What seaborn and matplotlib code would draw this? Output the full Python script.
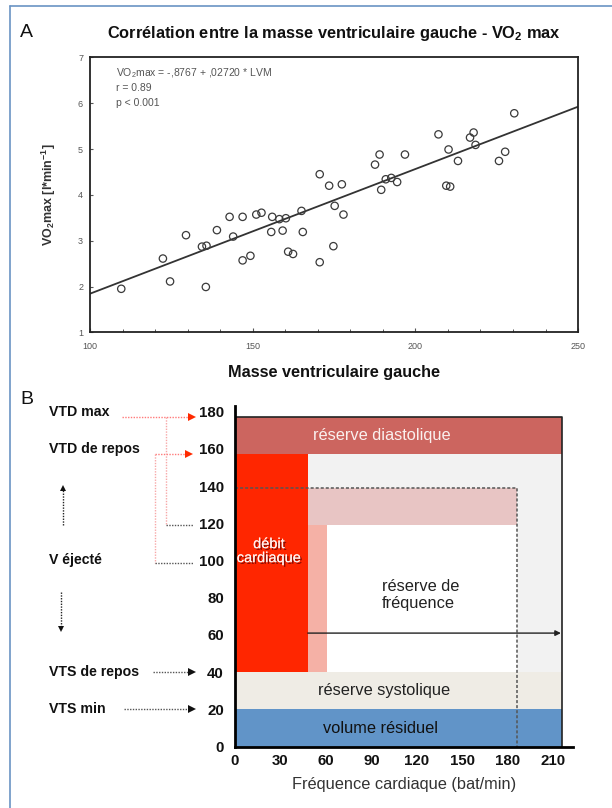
import matplotlib
matplotlib.use('Agg')

import matplotlib.pyplot as plt
import matplotlib.patheffects as pe
from matplotlib.lines import Line2D
from matplotlib.ticker import MultipleLocator
from matplotlib.transforms import blended_transform_factory
import seaborn as sns

sns.set_theme(style="white")
plt.rcParams['font.family'] = ['Liberation Sans', 'DejaVu Sans']
plt.rcParams['mathtext.default'] = 'regular'

# --- panel A : masse ventriculaire gauche vs VO2 max ---
lvm = [109.6, 122.4, 124.6, 129.5, 134.4, 135.8, 135.6, 139.0, 142.9, 144.0,
       146.9, 146.9, 149.3, 151.1, 152.7, 156.0, 155.7, 158.2, 159.2, 160.2,
       160.9, 162.4, 165.0, 165.4, 170.6, 170.6, 173.5, 174.8, 175.2, 177.4,
       177.9, 187.6, 189.0, 189.5, 190.9, 192.6, 194.4, 196.8, 207.1, 210.2,
       209.5, 210.7, 213.1, 216.8, 217.9, 218.5, 225.7, 227.6, 230.4]
vo2 = [1.95, 2.61, 2.11, 3.12, 2.87, 2.89, 1.99, 3.23, 3.52, 3.09,
       3.52, 2.57, 2.67, 3.57, 3.61, 3.52, 3.19, 3.47, 3.22, 3.49,
       2.76, 2.71, 3.65, 3.19, 4.45, 2.53, 4.20, 2.88, 3.76, 4.23,
       3.57, 4.66, 4.88, 4.11, 4.34, 4.37, 4.28, 4.88, 5.32, 4.99,
       4.20, 4.18, 4.74, 5.25, 5.36, 5.09, 4.74, 4.94, 5.78]
intercept, slope = -0.8767, 0.02720
line_lvm = [100, 250]
stats_lines = ["VO$_2$max = -,8767 + ,02720 * LVM", "r = 0.89", "p < 0.001"]

# --- panel B : volumes (ml) et frequence cardiaque (bat/min) ---
band_names = ['volume résiduel', 'réserve systolique', 'réserve diastolique']
band_low = [0, 20, 157]
band_high = [20, 40, 177]
fc_repos = 48        # fin de la colonne debit cardiaque
fc_step = 61
fc_max = 186
fc_limit = 216
vts_repos = 40
v_pink = [119, 139]
vtd_repos = 157
vtd_max = 177
arrow_v = 61
x_ticks = [0, 30, 60, 90, 120, 150, 180, 210]
y_ticks = [0, 20, 40, 60, 80, 100, 120, 140, 160, 180]

fig = plt.figure(figsize=(6.12, 8.08), dpi=100)
fig.patch.set_facecolor('white')

# frame lines (top and left)
border = '#6A93C4'
fig.add_artist(Line2D([10 / 612, 10 / 612], [0, 1 - 6 / 808], color=border, lw=1.2))
fig.add_artist(Line2D([10 / 612, 1], [1 - 6 / 808, 1 - 6 / 808], color=border, lw=1.2))

fig.text(0.044, 0.960, 'A', fontsize=14, ha='center', va='center', color='#111')
fig.text(0.044, 0.505, 'B', fontsize=14, ha='center', va='center', color='#111')

# ---------------- A ----------------
ax1 = fig.add_axes([0.1471, 0.5887, 0.7974, 0.3403])
sns.lineplot(x=line_lvm, y=[intercept + slope * v for v in line_lvm], ax=ax1,
             color='#333333', lw=1.3)
sns.scatterplot(x=lvm, y=vo2, ax=ax1, s=28, facecolor='none',
                edgecolor='#3a3a3a', linewidth=0.9, zorder=3)
ax1.set_xlim(100, 250)
ax1.set_ylim(1, 7)
ax1.set_xticks([100, 150, 200, 250])
ax1.set_yticks(range(1, 8))
ax1.xaxis.set_minor_locator(MultipleLocator(10))
ax1.tick_params(axis='x', which='major', direction='in', length=3, width=0.8,
                colors='#555', labelsize=6.5, pad=7, bottom=True)
ax1.tick_params(axis='x', which='minor', direction='in', length=2, width=0.7,
                color='#555', bottom=True)
ax1.tick_params(axis='y', direction='in', length=2.5, width=0.8,
                colors='#555', labelsize=6.5, pad=5, left=True)
for s in ax1.spines.values():
    s.set_color('#222')
    s.set_linewidth(1.3)
ax1.set_xlabel('Masse ventriculaire gauche', fontsize=11.7, fontweight='bold',
               color='#111', labelpad=10)
ax1.set_ylabel('VO$_2$max [l*min$^{-1}$]', fontsize=9, fontweight='bold',
               color='#333')
ax1.yaxis.set_label_coords(-0.066, 0.5)
ax1.set_title('Corrélation entre la masse ventriculaire gauche - VO$_2$ max',
              fontsize=11.8, fontweight='bold', color='#111', pad=14)
for i, t in enumerate(stats_lines):
    ax1.text(0.053, 0.943 - i * 0.055, t, transform=ax1.transAxes,
             fontsize=7.5, color='#555', ha='left', va='center')

# ---------------- B ----------------
ax2 = fig.add_axes([0.384, 0.0759, 0.5523, 0.4217])
ax2.set_xlim(0, 223)
ax2.set_ylim(0, 183)

band_colors = ['#6194C8', '#EFECE5', '#CC655F']
for lo, hi, c in zip(band_low, band_high, band_colors):
    ax2.bar(0, hi - lo, width=fc_limit, bottom=lo, align='edge', color=c,
            linewidth=0, zorder=1)
# zone grise (reserve de frequence)
ax2.bar(fc_repos, vtd_repos - vts_repos, width=fc_limit - fc_repos,
        bottom=vts_repos, align='edge', color='#F2F2F2', linewidth=0, zorder=1)
# zone blanche
ax2.bar(fc_step, v_pink[0] - vts_repos, width=fc_max - fc_step,
        bottom=vts_repos, align='edge', color='white', linewidth=0, zorder=1)
# bande rose
ax2.bar(fc_repos, v_pink[1] - v_pink[0], width=fc_max - fc_repos,
        bottom=v_pink[0], align='edge', color='#E8C5C4', linewidth=0, zorder=1)
# bande saumon
ax2.bar(fc_repos, v_pink[0] - vts_repos, width=fc_step - fc_repos,
        bottom=vts_repos, align='edge', color='#F5B1A6', linewidth=0, zorder=1)
# debit cardiaque
ax2.bar(0, vtd_repos - vts_repos, width=fc_repos, bottom=vts_repos,
        align='edge', color='#FF2600', linewidth=0, zorder=2)

# contour haut / droite
ax2.plot([0, fc_limit, fc_limit], [vtd_max, vtd_max, 0], color='#222',
         lw=1.2, zorder=3)
# pointilles
ax2.plot([0, fc_max, fc_max], [v_pink[1], v_pink[1], 0], color='#555',
         lw=1.1, ls=(0, (2, 1.3)), zorder=4)
# fleche reserve de frequence
ax2.annotate('', xy=(fc_limit - 1, arrow_v), xytext=(fc_repos, arrow_v),
             arrowprops=dict(arrowstyle='-|>', color='#222', lw=1,
                             mutation_scale=8, shrinkA=0, shrinkB=0), zorder=5)

ax2.text(97, 167, band_names[2], color='#FAF0EE', fontsize=11.8,
         ha='center', va='center', zorder=5)
ax2.text(98.5, 30, band_names[1], color='#222', fontsize=11.8,
         ha='center', va='center', zorder=5)
ax2.text(96, 10, band_names[0], color='#111', fontsize=11.8,
         ha='center', va='center', zorder=5)
ax2.text(97, 81.5, 'réserve de\nfréquence', color='#222', fontsize=11.8,
         ha='left', va='center', linespacing=1.1, zorder=5)
ax2.text(22.5, 105, 'débit\ncardiaque', color='#FFF2F0', fontsize=10.5,
         ha='center', va='center', linespacing=1.0, zorder=5,
         path_effects=[pe.withSimplePatchShadow(offset=(1.2, -1.2),
                                                shadow_rgbFace='#5a0000',
                                                alpha=0.7),
                       pe.Normal()])

sns.despine(ax=ax2)
ax2.spines['left'].set_color('black')
ax2.spines['bottom'].set_color('black')
ax2.spines['left'].set_linewidth(2)
ax2.spines['bottom'].set_linewidth(2)
ax2.spines['left'].set_zorder(6)
ax2.spines['bottom'].set_zorder(6)
ax2.set_xticks(x_ticks)
ax2.set_yticks(y_ticks)
ax2.tick_params(axis='both', length=0, labelsize=10.8)
ax2.tick_params(axis='y', pad=8)
ax2.tick_params(axis='x', pad=5)
for lab in ax2.get_xticklabels() + ax2.get_yticklabels():
    lab.set_fontweight('bold')
    lab.set_color('#111')
ax2.set_xlabel('Fréquence cardiaque (bat/min)', fontsize=11.8, color='#333',
               labelpad=7)

# annotations a gauche
tr = blended_transform_factory(ax2.transAxes, ax2.transData)
left_labels = ['VTD max', 'VTD de repos', 'V éjecté', 'VTS de repos', 'VTS min']
left_levels = [180, 160, 100, 40, 20]
for t, v in zip(left_labels, left_levels):
    ax2.text(-0.549, v, t, transform=tr, fontsize=10.2, fontweight='bold',
             color='#111', ha='left', va='center', clip_on=False)

dot = (0, (1, 1))
red_line = '#FF7A7A'
red_pale = '#F7A8A8'
red_head = '#FF2A00'

def hline(x0, x1, y, color, head=None):
    ax2.plot([x0, x1], [y, y], transform=tr, color=color, lw=1, ls=dot,
             clip_on=False, zorder=5)
    if head:
        ax2.plot([x1], [y], transform=tr, marker='>', ms=6, color=head,
                 clip_on=False, zorder=5, mew=0)

def vline(x, y0, y1, color, head=None):
    ax2.plot([x, x], [y0, y1], transform=tr, color=color, lw=1, ls=dot,
             clip_on=False, zorder=5)
    if head:
        ax2.plot([x], [y1], transform=tr, marker=head, ms=5, color='#111',
                 clip_on=False, zorder=5, mew=0)

hline(-0.334, -0.128, vtd_max, red_line, head=red_head)
hline(-0.237, -0.135, vtd_repos, red_line, head=red_head)
vline(-0.204, vtd_max, v_pink[0], red_pale)
hline(-0.204, -0.124, v_pink[0], '#555')
vline(-0.237, vtd_repos, 98.5, red_pale)
hline(-0.237, -0.124, 98.5, '#555')
vline(-0.510, v_pink[0], 139, '#222', head='^')
vline(-0.514, 83, 63, '#222', head='v')
hline(-0.244, -0.128, vts_repos, '#555', head='#111')
hline(-0.329, -0.128, 20, '#555', head='#111')

fig.savefig('out.png', dpi=100, facecolor='white')
